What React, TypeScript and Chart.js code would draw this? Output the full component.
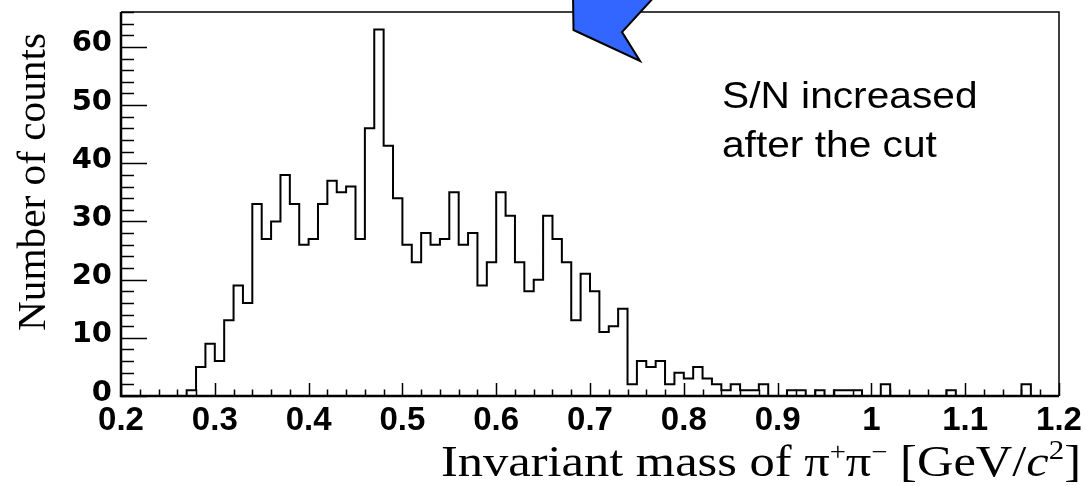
import React, { useEffect, useRef } from "react";
import { Chart, registerables } from "chart.js";
Chart.register(...registerables);

// Histogram: 100 bins of 0.01 GeV/c^2 from 0.2 to 1.2
const binStart = 0.2;
const binWidth = 0.01;
const counts = [
  0, 0, 0, 0, 0, 0, 0, 0, 1, 5,
  9, 6, 13, 19, 16, 33, 27, 30, 38, 33,
  26, 27, 33, 37, 35, 36, 27, 46, 63, 43,
  34, 26, 23, 28, 26, 27, 35, 26, 28, 19,
  23, 35, 31, 23, 18, 20, 31, 27, 23, 13,
  21, 18, 11, 12, 15, 2, 6, 5, 6, 2,
  4, 3, 5, 3, 2, 1, 2, 1, 1, 2,
  0, 0, 1, 1, 0, 1, 0, 1, 1, 1,
  0, 0, 2, 0, 0, 0, 0, 0, 0, 1,
  0, 0, 0, 0, 0, 0, 0, 2, 0, 0,
];

const xMin = 0.2;
const xMax = 1.2;
const yMin = 0;
const yMax = 66;
const xTickStep = 0.02;
const yTickStep = 2;
const xLabelStep = 0.1;
const yLabelStep = 10;

const yTitle = "Number of counts";
const noteLines = ["S/N increased", "after the cut"];

function isMultiple(v: number, step: number) {
  const r = v / step;
  return Math.abs(r - Math.round(r)) < 1e-6;
}

export default function App() {
  const ref = useRef<HTMLCanvasElement>(null);

  useEffect(() => {
    const data = counts.map((c, i) => ({ x: binStart + i * binWidth, y: c }));
    data.push({ x: binStart + counts.length * binWidth, y: counts[counts.length - 1] });

    const decorPlugin = {
      id: "decor",
      afterDraw(chart: any) {
        const ctx: CanvasRenderingContext2D = chart.ctx;
        const { left, right, top, bottom } = chart.chartArea;
        const xs = chart.scales.x;
        const ys = chart.scales.y;
        ctx.save();
        ctx.strokeStyle = "#000";
        // inner tick marks
        ctx.lineWidth = 1.5;
        ctx.beginPath();
        xs.ticks.forEach((t: any) => {
          const px = Math.round(xs.getPixelForValue(t.value)) + 0.5;
          const len = isMultiple(t.value, xLabelStep) ? 13 : 6.5;
          ctx.moveTo(px, bottom);
          ctx.lineTo(px, bottom - len);
        });
        ys.ticks.forEach((t: any) => {
          const py = Math.round(ys.getPixelForValue(t.value)) + 0.5;
          const len = isMultiple(t.value, yLabelStep) ? 26 : 13;
          ctx.moveTo(left, py);
          ctx.lineTo(left + len, py);
        });
        ctx.stroke();
        // frame
        ctx.lineWidth = 1.5;
        ctx.beginPath();
        ctx.moveTo(left, top);
        ctx.lineTo(right, top);
        ctx.lineTo(right, bottom);
        ctx.stroke();
        ctx.lineWidth = 2.5;
        ctx.beginPath();
        ctx.moveTo(left, top);
        ctx.lineTo(left, bottom);
        ctx.lineTo(right, bottom);
        ctx.stroke();

        // blue arrow callout (cut off at top)
        ctx.beginPath();
        ctx.moveTo(573, -5);
        ctx.lineTo(573.5, 30);
        ctx.lineTo(640, 61);
        ctx.lineTo(622, 32);
        ctx.lineTo(656, -5);
        ctx.closePath();
        ctx.fillStyle = "#3366ff";
        ctx.fill();
        ctx.lineWidth = 2;
        ctx.lineJoin = "miter";
        ctx.stroke();

        // note text
        ctx.fillStyle = "#000";
        ctx.font = '36px "Liberation Sans", Arial, sans-serif';
        ctx.textBaseline = "alphabetic";
        ctx.textAlign = "left";
        const noteY = [108, 157];
        noteLines.forEach((line, i) => {
          ctx.save();
          ctx.translate(722, noteY[i]);
          ctx.scale(1.13, 1);
          ctx.fillText(line, 0, 0);
          ctx.restore();
        });

        // x axis title with super/subscripts
        const serif = '"Liberation Serif", "Times New Roman", serif';
        const parts = [
          { t: "Invariant mass of \u03c0", f: `44px ${serif}`, dy: 0 },
          { t: "+", f: `25px ${serif}`, dy: -16 },
          { t: "\u03c0", f: `44px ${serif}`, dy: 0 },
          { t: "\u2212", f: `25px ${serif}`, dy: -16 },
          { t: " [GeV/", f: `44px ${serif}`, dy: 0 },
          { t: "c", f: `italic 44px ${serif}`, dy: 0 },
          { t: "2", f: `27px ${serif}`, dy: -17 },
          { t: "]", f: `44px ${serif}`, dy: 0 },
        ];
        let total = 0;
        parts.forEach((p) => {
          ctx.font = p.f;
          total += ctx.measureText(p.t).width;
        });
        const sx = 640 / total;
        ctx.save();
        ctx.translate(441, 476);
        ctx.scale(sx, 1);
        let cx = 0;
        parts.forEach((p) => {
          ctx.font = p.f;
          ctx.fillText(p.t, cx, p.dy);
          cx += ctx.measureText(p.t).width;
        });
        ctx.restore();

        // y axis title (rotated)
        ctx.font = `41px ${serif}`;
        const w = ctx.measureText(yTitle).width;
        ctx.save();
        ctx.translate(45, 331);
        ctx.rotate(-Math.PI / 2);
        ctx.scale(298 / w, 1);
        ctx.fillText(yTitle, 0, 0);
        ctx.restore();

        ctx.restore();
      },
    };

    const chart = new Chart(ref.current!, {
      type: "line",
      data: {
        datasets: [
          {
            data,
            stepped: "after",
            borderColor: "#000",
            borderWidth: 2,
            pointRadius: 0,
            fill: false,
          } as any,
        ],
      },
      options: {
        animation: false,
        responsive: false,
        maintainAspectRatio: false,
        layout: { padding: { top: 12, right: 29, left: 0, bottom: 0 } },
        plugins: { legend: { display: false }, tooltip: { enabled: false } },
        scales: {
          x: {
            type: "linear",
            min: xMin,
            max: xMax,
            grid: { display: false, drawTicks: false },
            border: { display: false },
            ticks: {
              stepSize: xTickStep,
              autoSkip: false,
              maxRotation: 0,
              minRotation: 0,
              padding: 5,
              color: "#000",
              font: { family: '"Liberation Sans", Arial, sans-serif', size: 33, weight: "bold" },
              callback: (v: any) => (isMultiple(Number(v), xLabelStep) ? String(Math.round(Number(v) * 10) / 10) : ""),
            },
            afterFit: (s: any) => {
              s.height = 90;
              s.paddingLeft = 0;
              s.paddingRight = 0;
            },
          },
          y: {
            type: "linear",
            min: yMin,
            max: yMax,
            grid: { display: false, drawTicks: false },
            border: { display: false },
            ticks: {
              stepSize: yTickStep,
              autoSkip: false,
              padding: 9,
              labelOffset: -3,
              color: "#000",
              font: { family: '"DejaVu Sans", sans-serif', size: 29, weight: "bold" },
              callback: (v: any) => (isMultiple(Number(v), yLabelStep) ? String(Math.round(Number(v))) : ""),
            },
            afterFit: (s: any) => {
              s.width = 121;
              s.paddingTop = 0;
              s.paddingBottom = 0;
            },
          },
        },
      },
      plugins: [decorPlugin],
    });
    return () => chart.destroy();
  }, []);

  return (
    <div style={{ position: "fixed", left: 0, top: 0, width: 1088, height: 486, background: "#fff" }}>
      <canvas ref={ref} width={1088} height={486} style={{ width: 1088, height: 486, display: "block" }} />
    </div>
  );
}
